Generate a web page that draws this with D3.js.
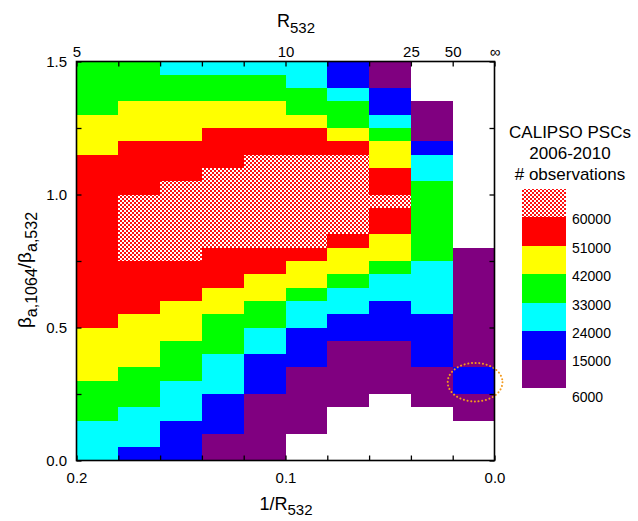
<!DOCTYPE html>
<html>
<head>
<meta charset="utf-8">
<script src="https://cdn.jsdelivr.net/npm/d3@7"></script>
<style>
  html, body { margin: 0; padding: 0; background: #fff; }
  svg { display: block; font-family: "Liberation Sans", Arial, Helvetica, sans-serif; }
</style>
</head>
<body>
<svg id="chart" width="638" height="521"></svg>
<script>
// ---- Grid of bins -------------------------------------------------------
// 1/R532 bin edges, left to right (0.20 → 0.00)
const xEdges = [0.20, 0.18, 0.16, 0.14, 0.12, 0.10, 0.08, 0.06, 0.04, 0.02, 0.00];
// β(1064)/β(532) bin edges, bottom to top
const yEdges = [0.00, 0.05, 0.10, 0.15, 0.20, 0.25, 0.30, 0.35, 0.40, 0.45,
                0.50, 0.55, 0.60, 0.65, 0.70, 0.75, 0.80, 0.85, 0.90, 0.95,
                1.00, 1.05, 1.10, 1.15, 1.20, 1.25, 1.30, 1.35, 1.40, 1.45, 1.50];

// ---- Observation counts (thousands), one array per 1/R532 column,
//      listed from β ratio 0.00–0.05 upward to 1.45–1.50 ------------------
const obsCol_020_018 = [28,28,28, 37,37,37, 46,46,46,46, 55,55,55,55,55,55,55,55,55,55,55,55,55, 46,46,46, 37,37,37,37];
const obsCol_018_016 = [19, 28,28,28, 37,37,37, 46,46,46,46, 55,55,55,55, 64,64,64,64,64, 55,55,55,55, 46,46,46, 37,37,37];
const obsCol_016_014 = [19,19,19, 28,28,28, 37,37,37, 46,46,46, 55,55,55, 64,64,64,64,64,64, 55,55,55, 46,46,46, 37,37, 28];
const obsCol_014_012 = [10,10, 19,19,19, 28,28,28, 37,37,37, 46,46, 55,55,55, 64,64,64,64,64,64, 55,55,55, 46,46, 37,37, 28];
const obsCol_012_010 = [10,10,10,10,10, 19,19,19, 28,28, 37,37, 46,46, 55,55, 64,64,64,64,64,64,64, 55,55, 46,46, 37,37, 28];
const obsCol_010_008 = [0,0, 10,10,10,10,10, 19,19,19, 28,28, 37, 46,46, 55, 64,64,64,64,64,64,64, 55,55, 46, 37,37, 28,28];
const obsCol_008_006 = [0,0,0,0, 10,10,10,10,10, 19,19, 28,28, 37, 46,46, 55, 64,64,64,64,64,64, 55, 46, 37,37, 28, 19,19];
const obsCol_006_004 = [0,0,0,0,0, 10,10,10,10, 19,19,19, 28,28, 37, 46,46, 55,55, 64, 55,55, 46,46, 37, 28, 19,19, 10,10];
const obsCol_004_002 = [0,0,0,0, 10,10,10, 19,19,19,19, 28,28,28,28, 37,37,37,37,37,37, 28,28, 19, 10,10,10, 0,0,0];
const obsCol_002_000 = [0,0,0, 10,10, 19,19, 10,10,10,10,10,10,10,10,10, 0,0,0,0,0,0,0,0,0,0,0,0,0,0];

const columns = [obsCol_020_018, obsCol_018_016, obsCol_016_014, obsCol_014_012, obsCol_012_010,
                 obsCol_010_008, obsCol_008_006, obsCol_006_004, obsCol_004_002, obsCol_002_000];

// ---- Colour classes ------------------------------------------------------
const classBreaks = [6000, 15000, 24000, 33000, 42000, 51000, 60000];
const classFills  = ["#800080", "#0000ff", "#00ffff", "#00ff00", "#ffff00", "#ff0000", "url(#checker)"];

// ---- Axis ticks ----------------------------------------------------------
const xTickValues = [0.20, 0.18, 0.16, 0.14, 0.12, 0.10, 0.08, 0.06, 0.04, 0.02, 0.00];
const xTickLabels = [0.2, 0.1, 0.0];
const rTickValues = [5, 10, 25, 50, Infinity];
const rTickLabels = ["5", "10", "25", "50", "\u221E"];
const yTickValues = [0, 0.25, 0.5, 0.75, 1.0, 1.25, 1.5];
const yTickLabels = [0.0, 0.5, 1.0, 1.5];

// Bin picked out with the dotted ring: 1/R532 0.02–0.00, β ratio 0.25–0.35
const ringBin = { x0: 0.02, x1: 0.00, y0: 0.25, y1: 0.35 };

// ---- Drawing -------------------------------------------------------------
const svg = d3.select("#chart");
const x = d3.scaleLinear().domain([0.2, 0]).range([76.5, 494.5]);
const y = d3.scaleLinear().domain([0, 1.5]).range([460.5, 61.5]);
const color = d3.scaleThreshold().domain(classBreaks).range([null, ...classFills]);

// red / white checkerboard for the highest class
const defs = svg.append("defs");
const pat = defs.append("pattern").attr("id", "checker")
  .attr("patternUnits", "userSpaceOnUse").attr("width", 4).attr("height", 4);
pat.append("rect").attr("width", 4).attr("height", 4).attr("fill", "#ffffff");
pat.append("rect").attr("x", 0).attr("y", 0).attr("width", 2).attr("height", 2).attr("fill", "#ff1010");
pat.append("rect").attr("x", 2).attr("y", 2).attr("width", 2).attr("height", 2).attr("fill", "#ff1010");

const cells = [];
columns.forEach((col, ci) => {
  col.forEach((k, ri) => {
    cells.push({ x0: xEdges[ci], x1: xEdges[ci + 1], y0: yEdges[ri], y1: yEdges[ri + 1], n: k * 1000 });
  });
});

svg.append("g").selectAll("rect")
  .data(cells.filter(d => color(d.n)))
  .join("rect")
  .attr("x", d => x(d.x0))
  .attr("y", d => y(d.y1))
  .attr("width", d => x(d.x1) - x(d.x0))
  .attr("height", d => y(d.y0) - y(d.y1))
  .attr("fill", d => color(d.n))
  .attr("shape-rendering", "crispEdges");

// dotted ring
svg.append("ellipse")
  .attr("cx", (x(ringBin.x0) + x(ringBin.x1)) / 2 + 1.5)
  .attr("cy", (y(ringBin.y0) + y(ringBin.y1)) / 2 + 1.5)
  .attr("rx", (x(ringBin.x1) - x(ringBin.x0)) / 2 + 6.5)
  .attr("ry", (y(ringBin.y0) - y(ringBin.y1)) / 2 + 6)
  .attr("fill", "none")
  .attr("stroke", "#f39a1e")
  .attr("stroke-width", 2)
  .attr("stroke-linecap", "round")
  .attr("stroke-dasharray", "0.1 3.6");

// axes
const near = (a, b) => Math.abs(a - b) < 1e-9;
function styleAxis(g) {
  g.select(".domain").remove();
  g.selectAll(".tick line").attr("stroke", "#000").attr("stroke-width", 1.3);
  g.selectAll("text").attr("font-size", 15).attr("fill", "#000")
    .attr("font-family", "'Liberation Sans', Arial, sans-serif");
}

svg.append("g").attr("transform", `translate(0,${y(0)})`)
  .call(d3.axisBottom(x).tickValues(xTickValues).tickSize(-5).tickPadding(12)
    .tickFormat(d => xTickLabels.some(v => near(v, d)) ? d3.format(".1f")(d) : ""))
  .call(styleAxis);

svg.append("g").attr("transform", `translate(0,${y(1.5)})`)
  .call(d3.axisTop(x).tickValues(xTickValues).tickSize(-5).tickPadding(5)
    .tickFormat(d => {
      const i = rTickValues.findIndex(r => near(1 / r, d));
      return i >= 0 ? rTickLabels[i] : "";
    }))
  .call(styleAxis);

svg.append("g").attr("transform", `translate(${x(0.2)},0)`)
  .call(d3.axisLeft(y).tickValues(yTickValues).tickSize(-5).tickPadding(9.5)
    .tickFormat(d => yTickLabels.some(v => near(v, d)) ? d3.format(".1f")(d) : ""))
  .call(styleAxis);

svg.append("g").attr("transform", `translate(${x(0)},0)`)
  .call(d3.axisRight(y).tickValues(yTickValues).tickSize(-5).tickFormat(""))
  .call(styleAxis);

// frame
svg.append("rect")
  .attr("x", x(0.2)).attr("y", y(1.5))
  .attr("width", x(0) - x(0.2)).attr("height", y(0) - y(1.5))
  .attr("fill", "none").attr("stroke", "#000").attr("stroke-width", 1.6);

// axis titles
const topTitle = svg.append("text").attr("x", 296).attr("y", 27)
  .attr("text-anchor", "middle").attr("font-size", 18);
topTitle.append("tspan").text("R");
topTitle.append("tspan").attr("font-size", 15).attr("dy", 6).text("532");

const bottomTitle = svg.append("text").attr("x", 286).attr("y", 510)
  .attr("text-anchor", "middle").attr("font-size", 18);
bottomTitle.append("tspan").text("1/R");
bottomTitle.append("tspan").attr("font-size", 15).attr("dy", 5).text("532");

const leftTitle = svg.append("text")
  .attr("transform", "translate(31,270) rotate(-90)")
  .attr("text-anchor", "middle").attr("font-size", 19);
leftTitle.append("tspan").text("\u03B2");
leftTitle.append("tspan").attr("font-size", 16).attr("dy", 6).text("a,1064");
leftTitle.append("tspan").attr("dy", -6).text("/\u03B2");
leftTitle.append("tspan").attr("font-size", 16).attr("dy", 6).text("a,532");

// legend
const legendTitle = ["CALIPSO PSCs", "2006-2010", "# observations"];
svg.append("g").selectAll("text").data(legendTitle).join("text")
  .attr("x", 570).attr("y", (d, i) => 138 + i * 21)
  .attr("text-anchor", "middle").attr("font-size", 17).attr("fill", "#000")
  .text(d => d);

const ly = d3.scaleLinear().domain([0, classFills.length]).range([189, 388]);
const legendFills = classFills.slice().reverse();       // top = highest class
const legendBreaks = classBreaks.slice().reverse();     // 60000 … 6000
const lg = svg.append("g");
lg.selectAll("rect").data(legendFills).join("rect")
  .attr("x", 522).attr("width", 44)
  .attr("y", (d, i) => ly(i)).attr("height", (d, i) => ly(i + 1) - ly(i))
  .attr("fill", d => d).attr("shape-rendering", "crispEdges");
lg.selectAll("text").data(legendBreaks).join("text")
  .attr("x", 572)
  .attr("y", (d, i) => ly(i + 1) + (i === legendBreaks.length - 1 ? 9 : 2))
  .attr("dy", "0.35em")
  .attr("font-size", 14).attr("fill", "#000")
  .text(d => d);
</script>
</body>
</html>
